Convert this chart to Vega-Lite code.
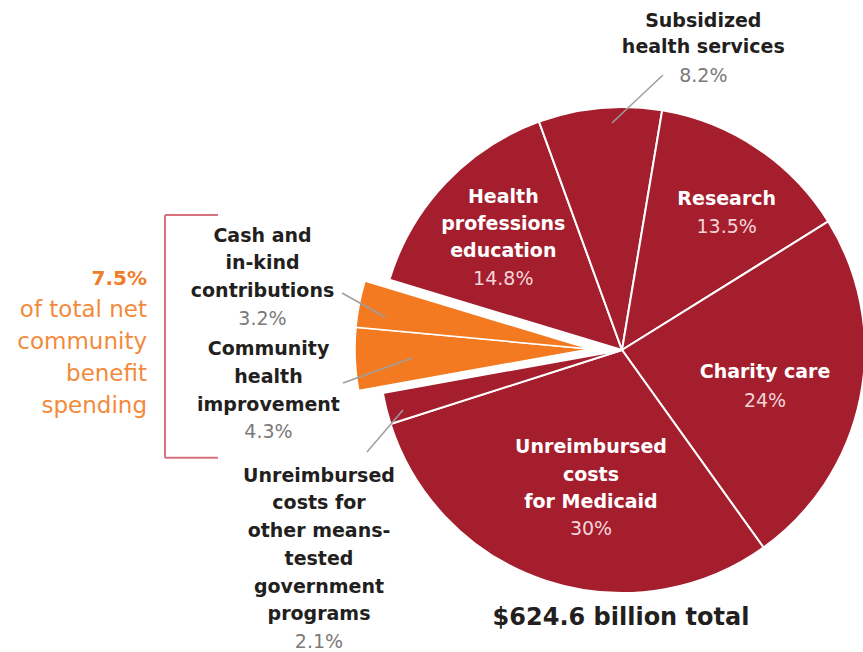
{
  "$schema": "https://vega.github.io/schema/vega-lite/v6.json",
  "width": 863,
  "height": 652,
  "padding": 0,
  "autosize": {"type": "none"},
  "background": "white",
  "config": {"view": {"stroke": null}},
  "datasets": {
    "slices": [
      {"order": 1, "category": "Health professions education", "share": 0.148, "group": "other", "label": "Health\nprofessions\neducation"},
      {"order": 2, "category": "Subsidized health services", "share": 0.082, "group": "other", "label": "Subsidized\nhealth services"},
      {"order": 3, "category": "Research", "share": 0.135, "group": "other", "label": "Research"},
      {"order": 4, "category": "Charity care", "share": 0.24, "group": "other", "label": "Charity care"},
      {"order": 5, "category": "Unreimbursed costs for Medicaid", "share": 0.30, "group": "other", "label": "Unreimbursed\ncosts\nfor Medicaid"},
      {"order": 6, "category": "Unreimbursed costs for other means-tested government programs", "share": 0.021, "group": "other", "label": "Unreimbursed\ncosts for\nother means-\ntested\ngovernment\nprograms"},
      {"order": 7, "category": "Community health improvement", "share": 0.043, "group": "community benefit", "label": "Community\nhealth\nimprovement"},
      {"order": 8, "category": "Cash and in-kind contributions", "share": 0.032, "group": "community benefit", "label": "Cash and\nin-kind\ncontributions"}
    ]
  },
  "layer": [
    {
      "data": {"name": "slices"},
      "transform": [
        {"stack": "share", "groupby": [], "sort": [{"field": "order", "order": "ascending"}], "as": ["s0", "s1"]},
        {"filter": "datum.group === 'other'"}
      ],
      "mark": {"type": "arc", "outerRadius": 243, "stroke": "white", "strokeWidth": 2},
      "encoding": {
        "x": {"datum": 0, "type": "quantitative", "scale": {"domain": [-2.5597, 0.9918], "nice": false, "zero": false}, "axis": null},
        "y": {"datum": 0, "type": "quantitative", "scale": {"domain": [-1.2428, 1.4403], "nice": false, "zero": false}, "axis": null},
        "theta": {"field": "s0", "type": "quantitative", "stack": null, "scale": {"domain": [0, 1.001], "range": [-1.2776, 5.0056]}},
        "theta2": {"field": "s1"},
        "color": {"field": "group", "type": "nominal", "scale": {"domain": ["other", "community benefit"], "range": ["#A51E2E", "#F37A20"]}, "legend": null}
      }
    },
    {
      "data": {"name": "slices"},
      "transform": [
        {"stack": "share", "groupby": [], "sort": [{"field": "order", "order": "ascending"}], "as": ["s0", "s1"]},
        {"filter": "datum.group === 'community benefit'"}
      ],
      "mark": {"type": "arc", "outerRadius": 235, "stroke": "white", "strokeWidth": 1.5},
      "encoding": {
        "x": {"datum": -0.1317, "type": "quantitative"},
        "y": {"datum": 0.0041, "type": "quantitative"},
        "theta": {"field": "s0", "type": "quantitative", "stack": null},
        "theta2": {"field": "s1"},
        "color": {"field": "group", "type": "nominal", "legend": null}
      }
    },
    {
      "data": {"values": [{}]},
      "mark": {"type": "rule", "color": "#9E9E9E", "strokeWidth": 1.5},
      "encoding": {"x": {"datum": 0.1687}, "y": {"datum": 1.1317}, "x2": {"datum": -0.0412}, "y2": {"datum": 0.9342}}
    },
    {
      "data": {"values": [{}]},
      "mark": {"type": "rule", "color": "#9E9E9E", "strokeWidth": 1.5},
      "encoding": {"x": {"datum": -1.1523}, "y": {"datum": 0.2346}, "x2": {"datum": -0.9753}, "y2": {"datum": 0.1358}}
    },
    {
      "data": {"values": [{}]},
      "mark": {"type": "rule", "color": "#9E9E9E", "strokeWidth": 1.5},
      "encoding": {"x": {"datum": -1.1481}, "y": {"datum": -0.1358}, "x2": {"datum": -0.8642}, "y2": {"datum": -0.0329}}
    },
    {
      "data": {"values": [{}]},
      "mark": {"type": "rule", "color": "#9E9E9E", "strokeWidth": 1.5},
      "encoding": {"x": {"datum": -1.0494}, "y": {"datum": -0.4198}, "x2": {"datum": -0.9012}, "y2": {"datum": -0.2469}}
    },
    {
      "data": {"values": [{}]},
      "mark": {"type": "rule", "color": "#D9727F", "strokeWidth": 2},
      "encoding": {"x": {"datum": -1.8807}, "y": {"datum": 0.5556}, "x2": {"datum": -1.6626}}
    },
    {
      "data": {"values": [{}]},
      "mark": {"type": "rule", "color": "#D9727F", "strokeWidth": 2},
      "encoding": {"x": {"datum": -1.8807}, "y": {"datum": 0.5556}, "y2": {"datum": -0.4432}}
    },
    {
      "data": {"values": [{}]},
      "mark": {"type": "rule", "color": "#D9727F", "strokeWidth": 2},
      "encoding": {"x": {"datum": -1.8807}, "y": {"datum": -0.4432}, "x2": {"datum": -1.6626}}
    },
    {
      "data": {"name": "slices"},
      "transform": [{"filter": "datum.order === 1"}],
      "mark": {"type": "text", "font": "DejaVu Sans", "fontWeight": "bold", "fontSize": 19, "color": "white", "align": "center", "baseline": "alphabetic", "lineBreak": "\n", "lineHeight": 26.7},
      "encoding": {"x": {"datum": -0.4885}, "y": {"datum": 0.6037}, "text": {"field": "label"}}
    },
    {
      "data": {"name": "slices"},
      "transform": [{"filter": "datum.order === 1"}],
      "mark": {"type": "text", "font": "DejaVu Sans", "fontSize": 19, "color": "#F3D5D8", "align": "center", "baseline": "alphabetic"},
      "encoding": {"x": {"datum": -0.4885}, "y": {"datum": 0.2675}, "text": {"field": "share", "type": "quantitative", "format": "~%"}}
    },
    {
      "data": {"name": "slices"},
      "transform": [{"filter": "datum.order === 2"}],
      "mark": {"type": "text", "font": "DejaVu Sans", "fontWeight": "bold", "fontSize": 19, "color": "#231F20", "align": "center", "baseline": "alphabetic", "lineBreak": "\n", "lineHeight": 26.7},
      "encoding": {"x": {"datum": 0.3346}, "y": {"datum": 1.3305}, "text": {"field": "label"}}
    },
    {
      "data": {"name": "slices"},
      "transform": [{"filter": "datum.order === 2"}],
      "mark": {"type": "text", "font": "DejaVu Sans", "fontSize": 19, "color": "#7A7A7A", "align": "center", "baseline": "alphabetic"},
      "encoding": {"x": {"datum": 0.3346}, "y": {"datum": 1.1041}, "text": {"field": "share", "type": "quantitative", "format": "~%"}}
    },
    {
      "data": {"name": "slices"},
      "transform": [{"filter": "datum.order === 3"}],
      "mark": {"type": "text", "font": "DejaVu Sans", "fontWeight": "bold", "fontSize": 19, "color": "white", "align": "center", "baseline": "alphabetic", "lineBreak": "\n"},
      "encoding": {"x": {"datum": 0.4309}, "y": {"datum": 0.5967}, "text": {"field": "label"}}
    },
    {
      "data": {"name": "slices"},
      "transform": [{"filter": "datum.order === 3"}],
      "mark": {"type": "text", "font": "DejaVu Sans", "fontSize": 19, "color": "#F3D5D8", "align": "center", "baseline": "alphabetic"},
      "encoding": {"x": {"datum": 0.4309}, "y": {"datum": 0.4802}, "text": {"field": "share", "type": "quantitative", "format": "~%"}}
    },
    {
      "data": {"name": "slices"},
      "transform": [{"filter": "datum.order === 4"}],
      "mark": {"type": "text", "font": "DejaVu Sans", "fontWeight": "bold", "fontSize": 19, "color": "white", "align": "center", "baseline": "alphabetic", "lineBreak": "\n"},
      "encoding": {"x": {"datum": 0.5885}, "y": {"datum": -0.1165}, "text": {"field": "label"}}
    },
    {
      "data": {"name": "slices"},
      "transform": [{"filter": "datum.order === 4"}],
      "mark": {"type": "text", "font": "DejaVu Sans", "fontSize": 19, "color": "#F3D5D8", "align": "center", "baseline": "alphabetic"},
      "encoding": {"x": {"datum": 0.5885}, "y": {"datum": -0.2333}, "text": {"field": "share", "type": "quantitative", "format": "~%"}}
    },
    {
      "data": {"name": "slices"},
      "transform": [{"filter": "datum.order === 5"}],
      "mark": {"type": "text", "font": "DejaVu Sans", "fontWeight": "bold", "fontSize": 19, "color": "white", "align": "center", "baseline": "alphabetic", "lineBreak": "\n", "lineHeight": 27.5},
      "encoding": {"x": {"datum": -0.1276}, "y": {"datum": -0.4251}, "text": {"field": "label"}}
    },
    {
      "data": {"name": "slices"},
      "transform": [{"filter": "datum.order === 5"}],
      "mark": {"type": "text", "font": "DejaVu Sans", "fontSize": 19, "color": "#F3D5D8", "align": "center", "baseline": "alphabetic"},
      "encoding": {"x": {"datum": -0.1276}, "y": {"datum": -0.7613}, "text": {"field": "share", "type": "quantitative", "format": "~%"}}
    },
    {
      "data": {"name": "slices"},
      "transform": [{"filter": "datum.order === 6"}],
      "mark": {"type": "text", "font": "DejaVu Sans", "fontWeight": "bold", "fontSize": 19, "color": "#231F20", "align": "center", "baseline": "alphabetic", "lineBreak": "\n", "lineHeight": 27.7},
      "encoding": {"x": {"datum": -1.2469}, "y": {"datum": -0.5420}, "text": {"field": "label"}}
    },
    {
      "data": {"name": "slices"},
      "transform": [{"filter": "datum.order === 6"}],
      "mark": {"type": "text", "font": "DejaVu Sans", "fontSize": 19, "color": "#7A7A7A", "align": "center", "baseline": "alphabetic"},
      "encoding": {"x": {"datum": -1.2469}, "y": {"datum": -1.2263}, "text": {"field": "share", "type": "quantitative", "format": "~%"}}
    },
    {
      "data": {"name": "slices"},
      "transform": [{"filter": "datum.order === 7"}],
      "mark": {"type": "text", "font": "DejaVu Sans", "fontWeight": "bold", "fontSize": 19, "color": "#231F20", "align": "center", "baseline": "alphabetic", "lineBreak": "\n", "lineHeight": 27.8},
      "encoding": {"x": {"datum": -1.4547}, "y": {"datum": -0.0206}, "text": {"field": "label"}}
    },
    {
      "data": {"name": "slices"},
      "transform": [{"filter": "datum.order === 7"}],
      "mark": {"type": "text", "font": "DejaVu Sans", "fontSize": 19, "color": "#7A7A7A", "align": "center", "baseline": "alphabetic"},
      "encoding": {"x": {"datum": -1.4547}, "y": {"datum": -0.3634}, "text": {"field": "share", "type": "quantitative", "format": "~%"}}
    },
    {
      "data": {"name": "slices"},
      "transform": [{"filter": "datum.order === 8"}],
      "mark": {"type": "text", "font": "DejaVu Sans", "fontWeight": "bold", "fontSize": 19, "color": "#231F20", "align": "center", "baseline": "alphabetic", "lineBreak": "\n", "lineHeight": 27.5},
      "encoding": {"x": {"datum": -1.4794}, "y": {"datum": 0.4457}, "text": {"field": "label"}}
    },
    {
      "data": {"name": "slices"},
      "transform": [{"filter": "datum.order === 8"}],
      "mark": {"type": "text", "font": "DejaVu Sans", "fontSize": 19, "color": "#7A7A7A", "align": "center", "baseline": "alphabetic"},
      "encoding": {"x": {"datum": -1.4794}, "y": {"datum": 0.1029}, "text": {"field": "share", "type": "quantitative", "format": "~%"}}
    },
    {
      "data": {"values": [{}]},
      "mark": {"type": "text", "font": "DejaVu Sans", "fontWeight": "bold", "fontSize": 20, "color": "#F07D2B", "align": "right", "baseline": "alphabetic"},
      "encoding": {"x": {"datum": -1.9547}, "y": {"datum": 0.2675}, "text": {"value": "7.5%"}}
    },
    {
      "data": {"values": [{}]},
      "mark": {"type": "text", "font": "DejaVu Sans", "fontSize": 23, "color": "#F28A3C", "align": "right", "baseline": "alphabetic", "lineBreak": "\n", "lineHeight": 32},
      "encoding": {"x": {"datum": -1.9547}, "y": {"datum": 0.1358}, "text": {"value": "of total net\ncommunity\nbenefit\nspending"}}
    },
    {
      "data": {"values": [{}]},
      "mark": {"type": "text", "font": "DejaVu Sans", "fontWeight": "bold", "fontSize": 24, "color": "#231F20", "align": "center", "baseline": "alphabetic"},
      "encoding": {"x": {"datum": -0.0041}, "y": {"datum": -1.1317}, "text": {"value": "$624.6 billion total"}}
    }
  ]
}
